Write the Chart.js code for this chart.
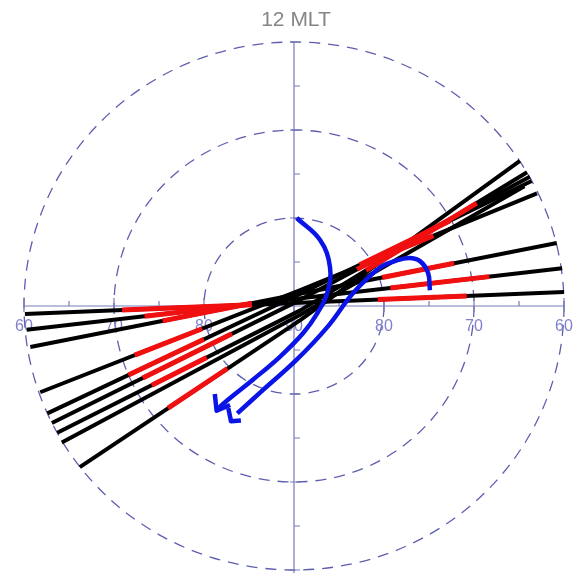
<!DOCTYPE html>
<html>
<head>
<meta charset="utf-8">
<script src="https://cdn.jsdelivr.net/npm/chart.js@4"></script>
<style>
  body { margin: 0; background: #fff; }
  canvas { display: block; }
</style>
</head>
<body>
<canvas id="polar" width="580" height="573"></canvas>
<script>
// positions are in degrees from the pole, x to the right, y up (12 MLT)
const topLabel = '12 MLT';
const latLabels = ['60', '70', '80', '90', '80', '70', '60'];
const latPos = [-30, -20, -10, 0, 10, 20, 30];
const circleRadii = [10, 20, 30];

// black tracks
const trackH1 = [[-29.9, -0.9], [30.0, 1.6]];
const trackH2 = [[-29.7, -2.7], [29.8, 4.3]];
const trackH3 = [[-29.3, -4.66], [29.2, 7.16]];
const trackA = [[-28.2, -9.8], [0.7, 1.8], [27.0, 12.8]];
const trackB = [[-27.4, -12.2], [0.7, 1.4], [26.4, 14.2]];
const trackC = [[-26.9, -13.3], [0.7, 0.7], [26.2, 14.7]];
const trackD = [[-26.3, -14.4], [0.7, -0.5], [25.9, 15.2]];
const trackE = [[-25.8, -15.5], [0.7, -1.0], [25.6, 13.6]];
const trackF = [[-23.8, -18.3], [0.7, -1.6], [25.1, 16.5]];

// red parts of the tracks
const redSegs = [
  [[-19.1, -0.45], [-4.7, 0.15]], [[9.3, 0.74], [19.2, 1.15]],
  [[-16.6, -1.16], [-4.7, 0.24]], [[10.7, 2.05], [21.7, 3.34]],
  [[-14.6, -1.69], [-4.7, 0.31]], [[9.8, 3.24], [17.8, 4.85]],
  [[-17.7, -5.59], [-10.2, -2.58]], [[8.5, 5.06], [15.5, 7.99]],
  [[-18.4, -7.85], [-10.0, -3.78]], [[7.3, 4.69], [17.3, 9.67]],
  [[-16.8, -8.18], [-6.9, -3.16]], [[7.0, 4.16], [17.5, 9.92]],
  [[-15.8, -9.0], [-9.7, -5.85]], [[8.0, 4.05], [20.3, 11.7]],
  [[-14.0, -11.6], [-7.4, -7.1]]
];

// blue flow arrows
const flowInner = [[0.3, 10.0], [2.9, 7.5], [4.0, 4.4], [3.7, 1.5], [2.6, -0.8], [1.0, -3.1],
  [-1.6, -5.8], [-4.6, -8.4], [-7.4, -10.7], [-8.4, -11.6]];
const flowOuter = [[15.1, 1.8], [14.9, 3.75], [14.0, 5.1], [12.8, 5.45], [11.2, 5.1], [9.6, 4.4],
  [6.6, 1.5], [3.7, -2.4], [0.3, -6.1], [-3.4, -9.5], [-6.3, -12.2]];
const headInner = [[-8.8, -10.0], [-8.6, -11.9], [-7.1, -11.25]];
const headOuter = [[-7.3, -11.6], [-7.0, -13.1], [-5.9, -13.0]];

const pts = arr => arr.map(p => ({ x: p[0], y: p[1] }));

const datasets = [];
[trackH1, trackH2, trackH3, trackA, trackB, trackC, trackD, trackE, trackF].forEach(t => {
  datasets.push({ data: pts(t), borderColor: '#000', borderWidth: 4, order: 3 });
});
redSegs.forEach(s => {
  datasets.push({ data: pts(s), borderColor: '#f01010', borderWidth: 5, order: 2 });
});
[flowInner, flowOuter].forEach(f => {
  datasets.push({ data: pts(f), borderColor: '#0a14e6', borderWidth: 4.5, tension: 0.4, order: 1 });
});
[headInner, headOuter].forEach(h => {
  datasets.push({ data: pts(h), borderColor: '#0a14e6', borderWidth: 4.5, order: 1 });
});
datasets.forEach(d => {
  d.showLine = true;
  d.pointRadius = 0;
  d.clip = false;
  d.fill = false;
  d.borderJoinStyle = 'round';
});

const polarGrid = {
  id: 'polarGrid',
  beforeDatasetsDraw(chart) {
    const ctx = chart.ctx, sx = chart.scales.x, sy = chart.scales.y;
    const cx = sx.getPixelForValue(0), cy = sy.getPixelForValue(0);
    ctx.save();

    // dashed latitude circles
    ctx.strokeStyle = '#5e5eb0';
    ctx.lineWidth = 1.3;
    ctx.setLineDash([11, 8]);
    circleRadii.forEach(r => {
      const rx = sx.getPixelForValue(r) - cx;
      const ry = cy - sy.getPixelForValue(r);
      ctx.beginPath();
      ctx.ellipse(cx, cy, rx, ry, 0, 0, Math.PI * 2);
      ctx.stroke();
    });
    ctx.setLineDash([]);

    // axes
    ctx.strokeStyle = '#7a7ab8';
    ctx.lineWidth = 1.2;
    ctx.beginPath();
    ctx.moveTo(sx.getPixelForValue(-30), cy);
    ctx.lineTo(sx.getPixelForValue(30), cy);
    ctx.moveTo(cx, sy.getPixelForValue(30));
    ctx.lineTo(cx, chart.height);
    ctx.stroke();

    // ticks every 5 degrees
    ctx.beginPath();
    for (let v = -30; v <= 30; v += 5) {
      const px = sx.getPixelForValue(v);
      const major = v % 10 === 0;
      ctx.moveTo(px, cy - (major ? 8 : 5));
      ctx.lineTo(px, cy + (major ? 6 : 0));
      const py = sy.getPixelForValue(v);
      if (v !== 0 && py < chart.height) {
        ctx.moveTo(cx - (major ? 4 : 0), py);
        ctx.lineTo(cx + 6, py);
      }
    }
    ctx.stroke();

    // latitude labels
    ctx.fillStyle = '#8080cc';
    ctx.font = '16px "Liberation Sans", Arial, sans-serif';
    ctx.textAlign = 'center';
    ctx.textBaseline = 'middle';
    latLabels.forEach((t, i) => {
      ctx.fillText(t, sx.getPixelForValue(latPos[i]), cy + 21);
    });

    // title
    ctx.fillStyle = '#858585';
    ctx.font = '21px "Liberation Sans", Arial, sans-serif';
    ctx.fillText(topLabel, cx + 2, 20);
    ctx.restore();
  }
};

new Chart(document.getElementById('polar'), {
  type: 'scatter',
  data: { datasets: datasets },
  options: {
    responsive: false,
    animation: false,
    events: [],
    layout: { padding: { left: 24, right: 16, top: 42, bottom: 0 } },
    plugins: { legend: { display: false }, tooltip: { enabled: false } },
    scales: {
      x: { type: 'linear', min: -30, max: 30, display: false },
      y: { type: 'linear', min: -30.34, max: 30, display: false }
    }
  },
  plugins: [polarGrid]
});
</script>
</body>
</html>
